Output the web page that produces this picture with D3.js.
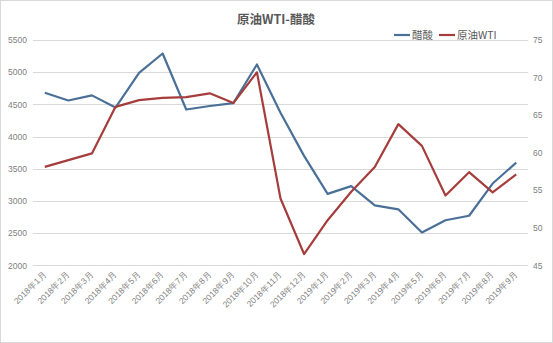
<!DOCTYPE html>
<html>
<head>
<meta charset="utf-8">
<script src="https://cdn.jsdelivr.net/npm/d3@7/dist/d3.min.js"></script>
<style>
  html, body { margin: 0; padding: 0; background: #fff; }
  svg { display: block; font-family: "Noto Sans CJK SC", "Noto Sans", sans-serif; }
  text { -webkit-font-smoothing: antialiased; }
</style>
</head>
<body>
<svg id="chart" width="553" height="343"></svg>
<script>
// Months (2018-01 .. 2019-09)
const categories = [
  "2018年1月","2018年2月","2018年3月","2018年4月","2018年5月","2018年6月","2018年7月",
  "2018年8月","2018年9月","2018年10月","2018年11月","2018年12月","2019年1月","2019年2月",
  "2019年3月","2019年4月","2019年5月","2019年6月","2019年7月","2019年8月","2019年9月"
];
// Acetic acid price (left axis)
const aceticAcid = [4680, 4560, 4640, 4450, 4990, 5290, 4420, 4475, 4520, 5120,
                    4370, 3700, 3110, 3230, 2930, 2870, 2510, 2700, 2770, 3270, 3595];
// WTI crude (right axis)
const wti = [58.1, 59.0, 59.9, 66.1, 67.0, 67.3, 67.4, 67.9, 66.6, 70.7,
             53.9, 46.5, 51.0, 54.8, 58.1, 63.8, 60.9, 54.3, 57.4, 54.7, 57.1];
const leftTicks = [2000, 2500, 3000, 3500, 4000, 4500, 5000, 5500];
const rightTicks = [45, 50, 55, 60, 65, 70, 75];
const seriesNames = ["醋酸", "原油WTI"];
const title = "原油WTI-醋酸";

const W = 553, H = 343;
const margin = { left: 33, right: 25, top: 40, bottom: 78 };
const colors = { acid: "#4a7098", wti: "#a53d3d" };
const labelColor = "#808080";

const svg = d3.select("#chart");

// outer frame
svg.append("rect").attr("x", 0.5).attr("y", 0.5).attr("width", W - 1).attr("height", H - 1)
  .attr("fill", "#fff").attr("stroke", "#d9d9d9");

const x = d3.scaleBand().domain(categories).range([margin.left, W - margin.right]);
const yL = d3.scaleLinear().domain([2000, 5500]).range([H - margin.bottom + 0.3, margin.top]);
const yR = d3.scaleLinear().domain([45, 75]).range([H - margin.bottom + 0.3, margin.top]);

// gridlines
svg.append("g").selectAll("line").data(leftTicks).join("line")
  .attr("x1", margin.left).attr("x2", W - margin.right)
  .attr("y1", d => Math.round(yL(d)) + 0.5).attr("y2", d => Math.round(yL(d)) + 0.5)
  .attr("stroke", "#d9d9d9").attr("stroke-width", 1);

// left axis
const gL = svg.append("g").attr("transform", `translate(${margin.left - 6},0)`)
  .call(d3.axisLeft(yL).tickValues(leftTicks).tickFormat(d3.format("d")).tickSize(0).tickPadding(0));
gL.select(".domain").remove();
gL.selectAll("text").attr("fill", labelColor).attr("font-size", 8.5);

// right axis
const gR = svg.append("g").attr("transform", `translate(${W - margin.right + 5},0)`)
  .call(d3.axisRight(yR).tickValues(rightTicks).tickFormat(d3.format("d")).tickSize(0).tickPadding(0));
gR.select(".domain").remove();
gR.selectAll("text").attr("fill", labelColor).attr("font-size", 8.5);

// bottom category labels, rotated
const xAxis = svg.append("g").attr("transform", `translate(0,${H - margin.bottom + 8})`)
  .call(d3.axisBottom(x).tickSize(0).tickPadding(0));
xAxis.select(".domain").remove();
xAxis.selectAll("text")
  .attr("fill", labelColor).attr("font-size", 8.5)
  .attr("text-anchor", "end").attr("dy", "0.35em").attr("y", 0)
  .attr("transform", "rotate(-45)");

const cx = d => x(d) + x.bandwidth() / 2;

const lineL = d3.line().x((d, i) => cx(categories[i])).y(d => yL(d));
const lineR = d3.line().x((d, i) => cx(categories[i])).y(d => yR(d));

svg.append("path").datum(aceticAcid).attr("d", lineL)
  .attr("fill", "none").attr("stroke", colors.acid).attr("stroke-width", 2.2)
  .attr("stroke-linejoin", "round");
svg.append("path").datum(wti).attr("d", lineR)
  .attr("fill", "none").attr("stroke", colors.wti).attr("stroke-width", 2.2)
  .attr("stroke-linejoin", "round");

// title
svg.append("text").attr("x", 276).attr("y", 24).attr("text-anchor", "middle")
  .attr("font-size", 12.5).attr("font-weight", "bold").attr("fill", "#595959").text(title);

// legend
const legend = [
  { name: seriesNames[0], color: colors.acid, x: 394 },
  { name: seriesNames[1], color: colors.wti, x: 439 }
];
const lg = svg.append("g");
legend.forEach(l => {
  lg.append("line").attr("x1", l.x).attr("x2", l.x + 16).attr("y1", 35).attr("y2", 35)
    .attr("stroke", l.color).attr("stroke-width", 2.2);
  lg.append("text").attr("x", l.x + 18).attr("y", 35).attr("dy", "0.35em")
    .attr("font-size", 10.5).attr("fill", "#595959").text(l.name);
});
</script>
</body>
</html>
